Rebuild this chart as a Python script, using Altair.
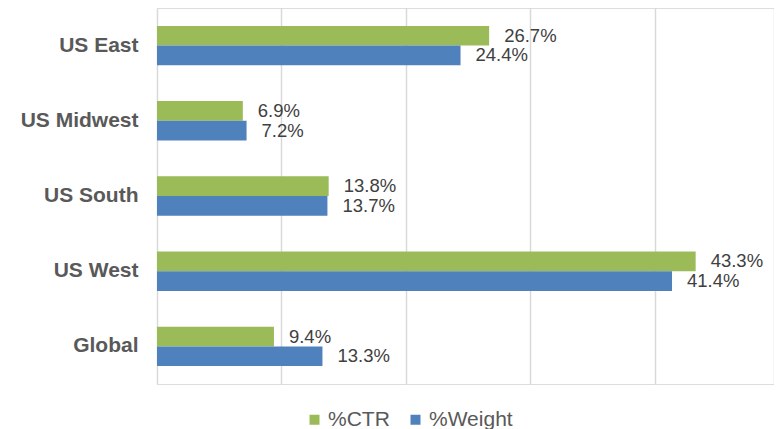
import altair as alt
import pandas as pd

regions = ["US East", "US Midwest", "US South", "US West", "Global"]
series = ["%CTR", "%Weight"]
ctr = [26.7, 6.9, 13.8, 43.3, 9.4]
weight = [24.4, 7.2, 13.7, 41.4, 13.3]
grid_values = [0, 10, 20, 30, 40, 49.6]
colors = ["#9BBB59", "#4F81BD"]

rows = []
for r, c, w in zip(regions, ctr, weight):
    rows.append({"region": r, "series": series[0], "value": c, "label": f"{c:.1f}%"})
    rows.append({"region": r, "series": series[1], "value": w, "label": f"{w:.1f}%"})
df = pd.DataFrame(rows)

FONT = "Liberation Sans, Arial, sans-serif"

y_enc = alt.Y("region:N", sort=regions,
              scale=alt.Scale(paddingInner=0.475, paddingOuter=0.2375),
              axis=alt.Axis(title=None, domain=False, ticks=False, labelFont=FONT,
                            labelFontSize=21, labelFontWeight="bold", labelColor="#595959",
                            labelPadding=19, labelLimit=300))
x_enc = alt.X("value:Q", scale=alt.Scale(domain=[0, 50], nice=False),
              axis=alt.Axis(title=None, labels=False, ticks=False, domain=False,
                            values=grid_values, grid=True,
                            gridColor="#d9d9d9", gridWidth=1.5))
yoff = alt.YOffset("series:N", sort=series, scale=alt.Scale(paddingInner=0, paddingOuter=0))

bars = alt.Chart(df).mark_bar(size=19.7).encode(
    y=y_enc,
    x=x_enc,
    yOffset=yoff,
    color=alt.Color("series:N", sort=series,
                    scale=alt.Scale(domain=series, range=colors),
                    legend=alt.Legend(title=None, orient="none", legendX=147, legendY=401,
                                      direction="horizontal", symbolType="square",
                                      symbolSize=100, symbolStrokeWidth=0,
                                      labelFont=FONT, labelFontSize=21, labelColor="#595959",
                                      labelOffset=3, columnPadding=15, padding=0)),
)

labels = alt.Chart(df).mark_text(align="left", baseline="middle", dx=15, font=FONT,
                                 fontSize=18.5, color="#404040").encode(
    y=alt.Y("region:N", sort=regions),
    x="value:Q",
    yOffset=yoff,
    text="label:N",
)

chart = (bars + labels).properties(
    width=622, height=376,
    autosize=alt.AutoSizeParams(type="none"),
    padding={"left": 149, "top": 0, "right": -5, "bottom": 45},
).configure_view(strokeWidth=0).configure(background="white")

chart.save("out.html", embed_options={"renderer": "svg", "actions": False})
